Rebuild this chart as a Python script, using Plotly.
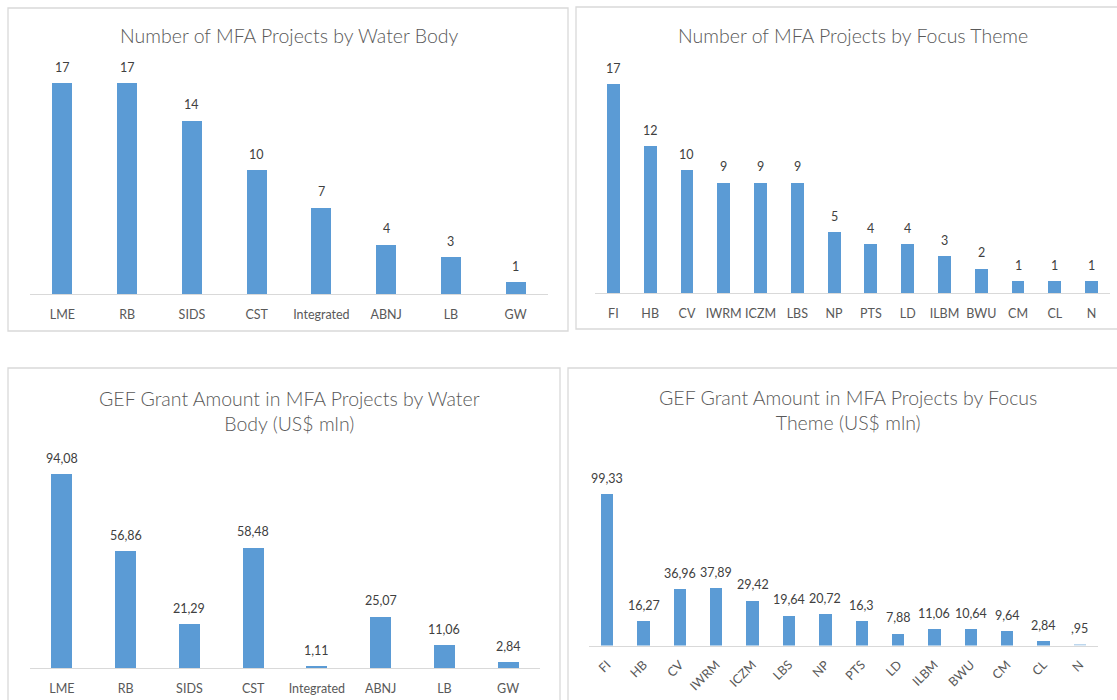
import plotly.graph_objects as go

W, H = 1117, 700

# ---- data ----
wb_cats = ["LME", "RB", "SIDS", "CST", "Integrated", "ABNJ", "LB", "GW"]
wb_counts = [17, 17, 14, 10, 7, 4, 3, 1]
wb_grants = [94.08, 56.86, 21.29, 58.48, 1.11, 25.07, 11.06, 2.84]

ft_cats = ["FI", "HB", "CV", "IWRM", "ICZM", "LBS", "NP", "PTS", "LD", "ILBM", "BWU", "CM", "CL", "N"]
ft_counts = [17, 12, 10, 9, 9, 9, 5, 4, 4, 3, 2, 1, 1, 1]
ft_grants = [99.33, 16.27, 36.96, 37.89, 29.42, 19.64, 20.72, 16.3, 7.88, 11.06, 10.64, 9.64, 2.84, 0.95]

titles = [
    "Number of MFA Projects by Water Body",
    "Number of MFA Projects by Focus Theme",
    "GEF Grant Amount in MFA Projects by Water<br>Body (US$ mln)",
    "GEF Grant Amount in MFA Projects by Focus<br>Theme (US$ mln)",
]

BAR = "#5B9BD5"
LIGHT = "#BDD7EE"
FONT = "Lato"


def fmt(v):
    s = f"{v:g}".replace(".", ",")
    if s.startswith("0,"):
        s = s[1:]
    return s


def px(x):
    return x / W


def py(y):
    return 1 - y / H


fig = go.Figure()

panels = [
    dict(cats=wb_cats, vals=wb_counts, x0=30, x1=548, base=294, ymax=18, top=294 - 18 * 12.41,
         bw=0.31, colors=BAR, angle=0, tx=289, ty=36),
    dict(cats=ft_cats, vals=ft_counts, x0=595, x1=1110, base=293, ymax=18, top=293 - 18 * 12.29,
         bw=0.35, colors=BAR, angle=0, tx=853, ty=36),
    dict(cats=wb_cats, vals=wb_grants, x0=30, x1=540, base=668, ymax=100, top=668 - 100 * 2.062,
         bw=0.33, colors=BAR, angle=0, tx=289, ty=411),
    dict(cats=ft_cats, vals=ft_grants, x0=589, x1=1098, base=645.5, ymax=120, top=645.5 - 120 * 1.53,
         bw=0.34, colors=[BAR] * (len(ft_cats) - 1) + [LIGHT], angle=-45, tx=848, ty=410),
]

annotations = []
for i, p in enumerate(panels):
    n = "" if i == 0 else str(i + 1)
    xa, ya = "x" + n, "y" + n
    fig.add_trace(go.Bar(
        x=p["cats"], y=p["vals"], xaxis=xa, yaxis=ya,
        marker=dict(color=p["colors"], line=dict(width=0)),
        width=p["bw"], showlegend=False, hoverinfo="x+y",
    ))
    fig.layout["xaxis" + n] = dict(
        domain=[px(p["x0"]), px(p["x1"])], anchor=ya, type="category",
        showline=True, linecolor="#D9D9D9", linewidth=1.3,
        showgrid=False, zeroline=False, ticks="",
        tickangle=p["angle"], ticklabelstandoff=9 if p["angle"] == 0 else 6,
        tickfont=dict(family=FONT, size=12.5, color="#595959"),
        fixedrange=True,
    )
    fig.layout["yaxis" + n] = dict(
        domain=[py(p["base"]), py(p["top"])], anchor=xa,
        range=[0, p["ymax"]], visible=False, showgrid=False, zeroline=False,
        fixedrange=True,
    )
    for c, v in zip(p["cats"], p["vals"]):
        annotations.append(dict(
            x=c, y=v, xref=xa, yref=ya, text=fmt(v), showarrow=False,
            yanchor="middle", yshift=15.5,
            font=dict(family=FONT, size=12.5, color="#404040"),
        ))
    annotations.append(dict(
        x=px(p["tx"]), y=py(p["ty"]), xref="paper", yref="paper",
        text=titles[i], showarrow=False, xanchor="center", yanchor="middle",
        font=dict(family=FONT, size=19.5, color="#595959", weight=300),
    ))

boxes = [(8, 8, 568, 331), (576, 7, 1130, 329), (8, 368, 560, 720), (568, 368, 1130, 720)]
shapes = [dict(type="rect", xref="paper", yref="paper",
               x0=px(a), y0=py(b), x1=px(c), y1=py(d),
               line=dict(color="#D9D9D9", width=1.3), layer="below")
          for a, b, c, d in boxes]

fig.update_layout(
    width=W, height=H, autosize=False,
    margin=dict(l=0, r=0, t=0, b=0),
    paper_bgcolor="white", plot_bgcolor="white",
    annotations=annotations, shapes=shapes,
    font=dict(family=FONT),
    bargap=0,
)

fig.write_html(
    "out.html",
    config={"displayModeBar": False},
    post_script="document.body.style.margin='0';document.body.style.overflow='hidden';",
)
